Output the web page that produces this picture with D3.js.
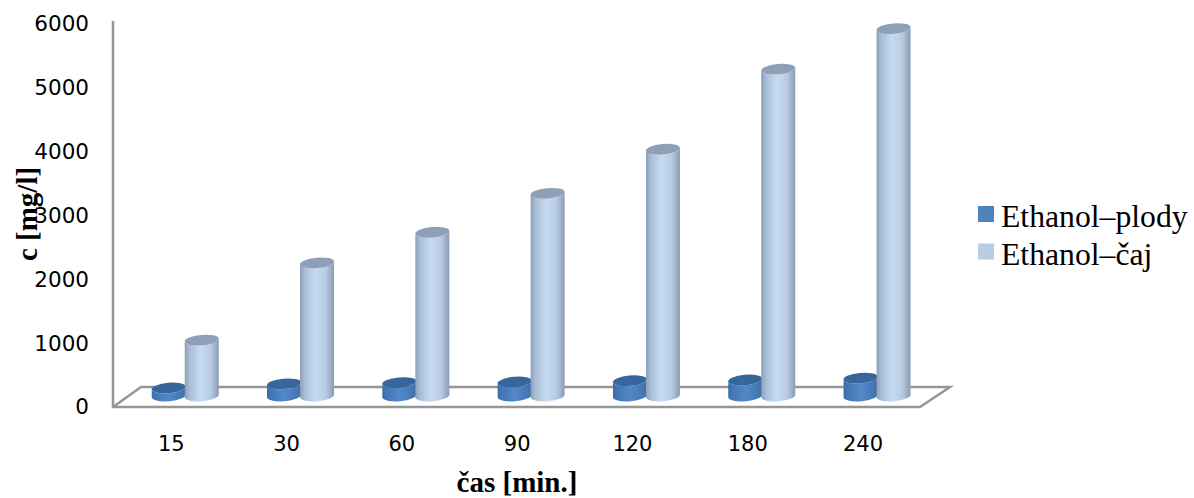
<!DOCTYPE html>
<html lang="en">
    <head>
        <meta charset="utf-8">
        <title>Ethanol</title>
        <script src="https://d3js.org/d3.v7.min.js"></script>
        <style type="text/css">
            html, body { margin: 0; padding: 0; background: #fff; }
            svg { display: block; }
        </style>
    </head>
    <body>
        <script type="text/javascript">

            const categories = ["15", "30", "60", "90", "120", "180", "240"];
            const seriesNames = ["Ethanol–plody", "Ethanol–čaj"];
            const plody = [125, 190, 210, 220, 240, 250, 280];
            const caj = [875, 2085, 2565, 3175, 3865, 5120, 5755];
            const yTicks = [0, 1000, 2000, 3000, 4000, 5000, 6000];

            const svgW = 1194;
            const svgH = 498;
            const wallX = 113;
            const floorY = 407;
            const depthX = 14;   // bars stand in the middle of the floor depth
            const rx = 17;
            const ry = 5.2;
            const tilt = 1.6;

            const xScale = d3.scaleBand().domain(categories).range([113.6, 920.7]);
            const inner = d3.scaleBand().domain(seriesNames).range([-33, 33]);
            const yScale = d3.scaleLinear().domain([0, 6000]).range([407, 24]);
            // same value scale, moved back onto the floor
            const barY = d3.scaleLinear().domain([0, 6000]).range([396, 13]);

            const svg = d3.select("body")
                    .append("svg")
                    .attr("width", svgW)
                    .attr("height", svgH);

            const defs = svg.append("defs");
            function addGradient(id, stops) {
                const g = defs.append("linearGradient").attr("id", id);
                stops.forEach(s => g.append("stop").attr("offset", s[0]).attr("stop-color", s[1]));
            }
            addGradient("gradPlody", [[0, "#3a6ca6"], [0.12, "#4277b4"], [0.5, "#5388c8"], [0.85, "#4679b6"], [1, "#3e6ea6"]]);
            addGradient("gradCaj", [[0, "#8a9eb6"], [0.14, "#a9bed6"], [0.45, "#c6daf2"], [0.75, "#b8cce4"], [1, "#8a9cb2"]]);

            const colors = {
                "Ethanol–plody": { body: "url(#gradPlody)", top: "#37669c", legend: "#4f81bd" },
                "Ethanol–čaj": { body: "url(#gradCaj)", top: "#8da0b8", legend: "#b8cce4" }
            };

            // floor and wall
            const grey = "#969696";
            const floor = svg.append("g")
                    .attr("fill", "none")
                    .attr("stroke", grey)
                    .attr("stroke-width", 2.5);
            floor.append("path").attr("d", "M" + wallX + ",21V" + floorY + "H920L950,387H141L" + wallX + "," + floorY);

            // cylinders
            function cylinder(cx, top, base) {
                const x0 = cx - rx, x1 = cx + rx;
                return "M" + x0 + "," + (top + tilt) + "L" + x0 + "," + (base + tilt)
                    + "A" + rx + "," + ry + " -5 0 0 " + x1 + "," + (base - tilt)
                    + "L" + x1 + "," + (top - tilt)
                    + "A" + rx + "," + ry + " -5 0 1 " + x0 + "," + (top + tilt) + "Z";
            }
            function topEllipse(cx, top) {
                const x0 = cx - rx, x1 = cx + rx;
                return "M" + x0 + "," + (top + tilt)
                    + "A" + rx + "," + ry + " -5 0 1 " + x1 + "," + (top - tilt)
                    + "A" + rx + "," + ry + " -5 0 1 " + x0 + "," + (top + tilt) + "Z";
            }

            const rows = categories.map((c, i) => ({ cat: c, values: [plody[i], caj[i]] }));
            const groups = svg.selectAll("g.cat")
                    .data(rows)
                    .enter()
                    .append("g")
                    .attr("class", "cat")
                    .attr("transform", d => "translate(" + (xScale(d.cat) + xScale.bandwidth() / 2 + depthX) + ",0)");

            seriesNames.forEach((name, k) => {
                const cx = inner(name) + inner.bandwidth() / 2;
                groups.append("path")
                    .attr("d", d => cylinder(cx, barY(d.values[k]), barY(0)))
                    .attr("fill", colors[name].body);
                groups.append("path")
                    .attr("d", d => topEllipse(cx, barY(d.values[k])))
                    .attr("fill", colors[name].top);
            });

            // axes, lines are drawn above so only labels come from here
            const leftAxis = d3.axisLeft(yScale).tickValues(yTicks).tickSize(0).tickPadding(24).tickFormat(d3.format("d"));
            const gy = svg.append("g").attr("transform", "translate(" + wallX + ",0)").call(leftAxis);
            gy.select(".domain").remove();
            gy.selectAll("text").attr("font-family", "DejaVu Sans").attr("font-size", 21.5).attr("fill", "#000");

            const bottomAxis = d3.axisBottom(xScale).tickSize(0).tickPadding(29);
            const gx = svg.append("g").attr("transform", "translate(0," + floorY + ")").call(bottomAxis);
            gx.select(".domain").remove();
            gx.selectAll("text").attr("font-family", "DejaVu Sans").attr("font-size", 21).attr("fill", "#000");

            // axis titles
            svg.append("text")
                .attr("x", 517).attr("y", 492)
                .attr("text-anchor", "middle")
                .attr("font-family", "Liberation Serif").attr("font-weight", "bold").attr("font-size", 29)
                .text("čas [min.]");
            svg.append("text")
                .attr("transform", "translate(37,214) rotate(-90)")
                .attr("text-anchor", "middle")
                .attr("font-family", "Liberation Serif").attr("font-weight", "bold").attr("font-size", 29)
                .text("c [mg/l]");

            // legend
            const legend = svg.selectAll("g.legend")
                    .data(seriesNames)
                    .enter()
                    .append("g")
                    .attr("class", "legend")
                    .attr("transform", (d, i) => "translate(978," + (206 + i * 37.5) + ")");
            legend.append("rect").attr("width", 16).attr("height", 16).attr("fill", d => colors[d].legend);
            legend.append("text")
                .attr("x", 23).attr("y", 21)
                .attr("font-family", "Liberation Serif").attr("font-size", 31.7)
                .text(d => d);

        </script>
    </body>
</html>
